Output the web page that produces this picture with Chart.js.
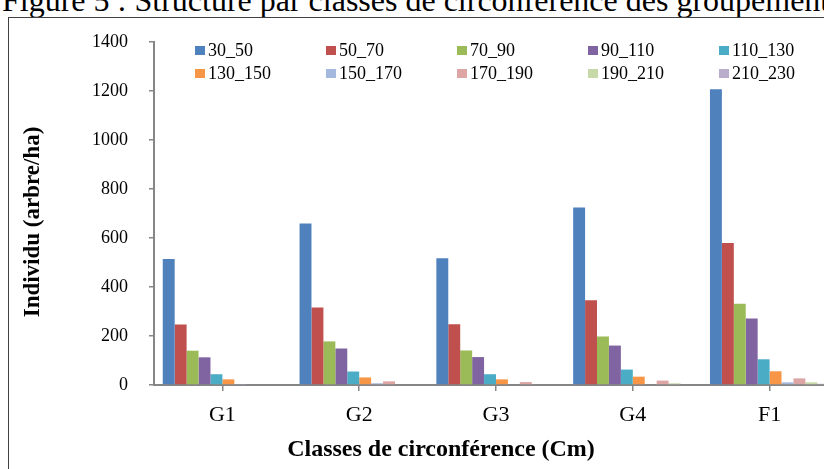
<!DOCTYPE html>
<html>
<head>
<meta charset="utf-8">
<script src="https://cdn.jsdelivr.net/npm/chart.js@4.4.1/dist/chart.umd.min.js"></script>
<style>
  html, body { margin: 0; padding: 0; background: #fff; overflow: hidden; }
  #wrap { position: relative; width: 824px; height: 469px; overflow: hidden; }
  #caption {
    position: absolute; left: 2px; top: -16px; white-space: nowrap;
    font: 32px/32px 'Liberation Serif', 'Times New Roman', serif; color: #000;
  }
  #frame {
    position: absolute; left: 8px; top: 17px; width: 900px; height: 500px;
    border: 1px solid #404040; box-sizing: border-box;
  }
  #myChart { position: absolute; left: 0; top: 0; }
</style>
</head>
<body>
<div id="wrap">
  <div id="caption">Figure 5 : Structure par classes de circonférence des groupements</div>
  <div id="frame"></div>
  <canvas id="myChart" width="860" height="469"></canvas>
</div>
<script>
'use strict';

// groupements (x axis)
const groups = ['G1', 'G2', 'G3', 'G4', 'F1'];
// classes de circonférence (series)
const classes = ['30_50', '50_70', '70_90', '90_110', '110_130',
  '130_150', '150_170', '170_190', '190_210', '210_230'];

// individus (arbre/ha) per class, one value per groupement
const c30_50 = [514, 659, 517, 725, 1207];
const c50_70 = [247, 316, 248, 346, 580];
const c70_90 = [140, 178, 141, 198, 332];
const c90_110 = [113, 149, 114, 161, 271];
const c110_130 = [44, 55, 44, 63, 105];
const c130_150 = [23, 31, 23, 34, 56];
const c150_170 = [4, 7, 3, 0, 11];
const c170_190 = [0, 15, 12, 18, 27];
const c190_210 = [0, 3, 0, 7, 11];
const c210_230 = [0, 0, 0, 0, 5];

const yTicks = [0, 200, 400, 600, 800, 1000, 1200, 1400];

const seriesValues = [c30_50, c50_70, c70_90, c90_110, c110_130,
  c130_150, c150_170, c170_190, c190_210, c210_230];
const colors = ['#4F81BD', '#C0504D', '#9BBB59', '#8064A2', '#4BACC6',
  '#F79646', '#A5B9DE', '#DDA6A4', '#C7D8A9', '#BAADCC'];

const serif = "'Liberation Serif', 'Times New Roman', serif";
const chartCanvas = document.getElementById('myChart');

// legend in a 5 x 2 grid like the excel one, plus the two axis titles
const extrasPlugin = {
  id: 'extras',
  afterDraw(chart) {
    const ctx = chart.ctx;
    ctx.save();
    chart.data.datasets.forEach(function (ds, i) {
      const x = 195 + (i % 5) * 131;
      const y = 51 + Math.floor(i / 5) * 23;
      ctx.fillStyle = ds.backgroundColor;
      ctx.fillRect(x, y - 5, 10, 9);
      ctx.fillStyle = '#000';
      ctx.font = '18px ' + serif;
      ctx.textBaseline = 'middle';
      ctx.textAlign = 'left';
      ctx.fillText(ds.label, x + 13, y);
    });
    ctx.textAlign = 'center';
    ctx.textBaseline = 'middle';
    ctx.font = 'bold 24px ' + serif;
    ctx.fillText('Classes de circonférence (Cm)', 441, 450);
    ctx.font = 'bold 23px ' + serif;
    ctx.translate(33, 222);
    ctx.rotate(-Math.PI / 2);
    ctx.fillText('Individu (arbre/ha)', 0, 0);
    ctx.restore();
  }
};

new Chart(chartCanvas, {
  type: 'bar',
  data: {
    labels: groups,
    datasets: classes.map(function (name, i) {
      return {
        label: name,
        data: seriesValues[i],
        backgroundColor: colors[i],
        borderWidth: 0
      };
    })
  },
  options: {
    responsive: false,
    animation: false,
    devicePixelRatio: 1,
    layout: { padding: { top: 42, right: 22, left: 0, bottom: 0 } },
    datasets: { bar: { categoryPercentage: 0.872, barPercentage: 1 } },
    plugins: { legend: { display: false }, tooltip: { enabled: false } },
    scales: {
      x: {
        z: 1,
        grid: { offset: false, drawOnChartArea: false, tickLength: 6, color: '#868686', lineWidth: 1.5 },
        border: { color: '#868686', width: 2 },
        ticks: { color: '#000', font: { family: serif, size: 22 }, padding: 11 },
        afterFit: function (scale) { scale.height = 84; }
      },
      y: {
        min: 0,
        max: 1400,
        afterBuildTicks: function (scale) {
          scale.ticks = yTicks.map(function (v) { return { value: v }; });
        },
        grid: { drawOnChartArea: false, tickLength: 5, color: '#868686', lineWidth: 1.5 },
        border: { color: '#868686', width: 2 },
        ticks: {
          color: '#000',
          font: { family: serif, size: 18 },
          padding: 21,
          callback: function (v) { return String(v); }
        },
        afterFit: function (scale) { scale.width = 154; }
      }
    }
  },
  plugins: [extrasPlugin]
});
</script>
</body>
</html>
